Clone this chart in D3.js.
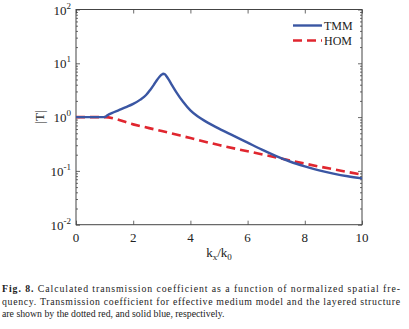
<!DOCTYPE html>
<html><head><meta charset="utf-8">
<script src="https://cdn.jsdelivr.net/npm/d3@7"></script>
<style>body{margin:0;background:#fff}svg{display:block}</style>
</head><body>
<script>
// Data, |T| given as log10 values
const kx     = [0, 0.5, 1.0, 1.1, 1.25, 1.5, 1.75, 2.0, 2.25, 2.45, 2.6, 2.72, 2.82, 2.92, 3.0, 3.05, 3.1, 3.17, 3.25, 3.35, 3.5, 3.75, 4.0, 4.25, 4.5, 4.75, 5.0, 5.5, 6.0, 6.5, 7.0, 7.5, 8.0, 8.5, 9.0, 9.5, 10.0];
const tmmLog = [0, 0, 0, 0.035, 0.075, 0.13, 0.185, 0.245, 0.325, 0.41, 0.51, 0.6, 0.68, 0.75, 0.79, 0.805, 0.8, 0.755, 0.69, 0.6, 0.47, 0.28, 0.125, 0.015, -0.07, -0.145, -0.215, -0.345, -0.475, -0.605, -0.725, -0.83, -0.915, -0.99, -1.05, -1.1, -1.14];
const homKx  = [0, 0.5, 1.0, 2, 3, 4, 5, 6, 7, 8, 9, 10];
const homLog = [0, 0, 0, -0.135, -0.26, -0.39, -0.52, -0.635, -0.75, -0.865, -0.97, -1.07];
const xTicks = [0, 2, 4, 6, 8, 10];
const yTicksExp = [-2, -1, 0, 1, 2];
const seriesNames = ["TMM", "HOM"];
const captionLines = [
  "Calculated transmission coefficient as a function of normalized spatial fre-",
  "quency. Transmission coefficient for effective medium model and the layered structure",
  "are shown by the dotted red, and solid blue, respectively."
];
const captionLabel = "Fig. 8.";

const W = 409, H = 329;
const L = 76, R = 362, T = 9.5, B = 224.7;
const svg = d3.select("body").append("svg").attr("width", W).attr("height", H);
const x = d3.scaleLinear().domain([0, 10]).range([L, R]);
const y = d3.scaleLog().domain([1e-2, 1e2]).range([B, T]);
const serif = "'Liberation Serif', 'Times New Roman', serif";
const axisCol = "#444";

const minor = [];
for (let e = -2; e < 2; e++) for (let m = 2; m <= 9; m++) minor.push(m * Math.pow(10, e));

const g = svg.append("g");
g.append("rect").attr("x", L).attr("y", T).attr("width", R - L).attr("height", B - T)
  .attr("fill", "none").attr("stroke", axisCol).attr("stroke-width", 1);

g.append("g").attr("transform", `translate(0,${B})`).call(d3.axisBottom(x).tickValues(xTicks).tickSize(-4).tickFormat(""));
g.append("g").attr("transform", `translate(0,${T})`).call(d3.axisTop(x).tickValues(xTicks).tickSize(-4).tickFormat(""));
const yMaj = yTicksExp.map(e => Math.pow(10, e));
g.append("g").attr("transform", `translate(${L},0)`).call(d3.axisLeft(y).tickValues(yMaj).tickSize(-4).tickFormat(""));
g.append("g").attr("transform", `translate(${R},0)`).call(d3.axisRight(y).tickValues(yMaj).tickSize(-4).tickFormat(""));
g.append("g").attr("transform", `translate(${L},0)`).call(d3.axisLeft(y).tickValues(minor).tickSize(-2).tickFormat(""));
g.append("g").attr("transform", `translate(${R},0)`).call(d3.axisRight(y).tickValues(minor).tickSize(-2).tickFormat(""));
g.selectAll(".domain").remove();
g.selectAll(".tick line").attr("stroke", axisCol).attr("stroke-width", 0.8);

svg.append("g").selectAll("text").data(xTicks).join("text")
  .attr("x", d => x(d)).attr("y", 242).attr("text-anchor", "middle")
  .attr("font-family", serif).attr("font-size", 13).attr("fill", "#222").text(d => d);

const yl = svg.append("g").selectAll("text").data(yTicksExp).join("text")
  .attr("x", 71).attr("y", d => y(Math.pow(10, d)) + 5).attr("text-anchor", "end")
  .attr("font-family", serif).attr("font-size", 13).attr("fill", "#222");
yl.append("tspan").text("10");
yl.append("tspan").attr("dy", -6).attr("font-size", 9).text(d => d);

const xl = svg.append("text").attr("x", 219).attr("y", 257).attr("text-anchor", "middle")
  .attr("font-family", serif).attr("font-size", 13).attr("fill", "#222");
xl.append("tspan").text("k");
xl.append("tspan").attr("dy", 3).attr("font-size", 9).text("x");
xl.append("tspan").attr("dy", -3).text("/k");
xl.append("tspan").attr("dy", 3).attr("font-size", 9).text("0");

svg.append("text").attr("transform", `translate(44,117) rotate(-90)`).attr("text-anchor", "middle")
  .attr("font-family", serif).attr("font-size", 13).attr("fill", "#222").text("|T|");

svg.append("clipPath").attr("id", "c").append("rect")
  .attr("x", L).attr("y", T).attr("width", R - L).attr("height", B - T);
const line = d3.line().curve(d3.curveMonotoneX);
const tmmPts = kx.map((k, i) => [x(k), y(Math.pow(10, tmmLog[i]))]);
const homPts = homKx.map((k, i) => [x(k), y(Math.pow(10, homLog[i]))]);
const blue = "#3a56a3", red = "#e0262f";
svg.append("path").attr("d", line(homPts)).attr("fill", "none").attr("stroke", red)
  .attr("stroke-width", 2.6).attr("stroke-dasharray", "9,5").attr("clip-path", "url(#c)");
svg.append("path").attr("d", line(tmmPts)).attr("fill", "none").attr("stroke", blue)
  .attr("stroke-width", 2.4).attr("stroke-linejoin", "round").attr("clip-path", "url(#c)");

const leg = svg.append("g");
const legColors = [blue, red], legDash = [null, "9,5"];
seriesNames.forEach((n, i) => {
  const yy = 25.5 + i * 15;
  leg.append("line").attr("x1", 293).attr("x2", 322).attr("y1", yy).attr("y2", yy)
    .attr("stroke", legColors[i]).attr("stroke-width", 2.4).attr("stroke-dasharray", legDash[i]);
  leg.append("text").attr("x", 324).attr("y", yy + 4.5).attr("font-family", serif)
    .attr("font-size", 12).attr("fill", "#222").text(n);
});

const cap = svg.append("g").attr("font-family", serif).attr("font-size", 9.8).attr("fill", "#222");
captionLines.forEach((t, i) => {
  const tx = cap.append("text").attr("x", 2).attr("y", 292 + i * 12.6);
  if (i < 2) tx.attr("textLength", 398).attr("lengthAdjust", "spacing");
  if (i === 0) {
    tx.append("tspan").attr("font-weight", "bold").text(captionLabel);
    tx.append("tspan").text(" " + t);
  } else tx.text(t);
});
</script>
</body></html>
